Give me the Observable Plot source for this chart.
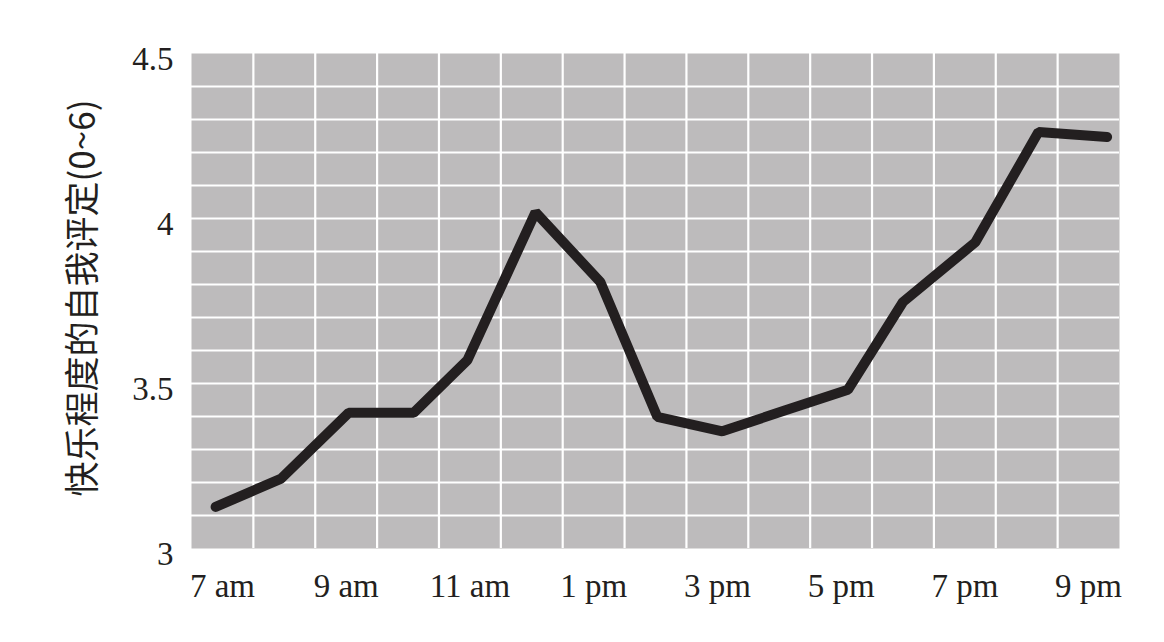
<!DOCTYPE html>
<html>
<head>
<meta charset="utf-8">
<script src="https://cdn.jsdelivr.net/npm/d3@7"></script>
<script src="https://cdn.jsdelivr.net/npm/@observablehq/plot@0.6"></script>
<style>
  html, body { margin: 0; padding: 0; background: #fff; }
  #chart svg { display: block; }
</style>
</head>
<body>
<div id="chart"></div>
<script>
// Hour of day (24h clock)
const hours = [6.89, 7.95, 9.04, 10.09, 10.96, 12.06, 13.11, 14.03, 15.08, 16.1, 17.11, 18.0, 19.17, 20.19, 21.3];
// Self-rated happiness (0~6)
const happiness = [3.126, 3.212, 3.411, 3.411, 3.571, 4.019, 3.807, 3.399, 3.355, 3.419, 3.481, 3.747, 3.928, 4.262, 4.247];

const xTickValues = [7, 9, 11, 13, 15, 17, 19, 21];
const xTickLabels = ["7 am", "9 am", "11 am", "1 pm", "3 pm", "5 pm", "7 pm", "9 pm"];
const yTickValues = [3, 3.5, 4, 4.5];
const yTickLabels = ["3", "3.5", "4", "4.5"];
const yTitle = "快乐程度的自我评定(0~6)";

const xGrid = d3.range(7.5, 21, 1);
const yGrid = d3.range(31, 45).map(d => d / 10);

const data = hours.map((h, i) => ({hour: h, value: happiness[i]}));

const chart = Plot.plot({
  width: 1164,
  height: 642,
  marginLeft: 191,
  marginRight: 45,
  marginTop: 53,
  marginBottom: 94,
  style: {fontFamily: "'Liberation Serif', 'Times New Roman', serif", background: "#fff", color: "#231f20", fontSize: "33px"},
  x: {domain: [6.5, 21.5]},
  y: {domain: [3, 4.5]},
  marks: [
    Plot.frame({fill: "#bdbbbc", stroke: null}),
    Plot.gridX(xGrid, {stroke: "#fff", strokeOpacity: 1, strokeWidth: 2.2}),
    Plot.gridY(yGrid, {stroke: "#fff", strokeOpacity: 1, strokeWidth: 2.2}),
    Plot.axisX(xTickValues, {
      tickSize: 0, tickPadding: 25, fontSize: 33,
      tickFormat: (d) => xTickLabels[xTickValues.indexOf(d)],
      label: null, fill: "#231f20"
    }),
    Plot.axisY(yTickValues, {
      tickSize: 0, tickPadding: 18, fontSize: 33, dy: 6,
      tickFormat: (d) => yTickLabels[yTickValues.indexOf(d)],
      label: null, fill: "#231f20"
    }),
    Plot.text([yTitle], {
      frameAnchor: "left", textAnchor: "middle", dx: -108, dy: -3, rotate: -90,
      fontSize: 35, fill: "#231f20",
      fontFamily: "'Noto Sans CJK SC', sans-serif"
    }),
    Plot.line(data, {
      x: "hour", y: "value",
      stroke: "#231f20", strokeWidth: 10,
      strokeLinecap: "round", strokeLinejoin: "miter"
    })
  ]
});
document.getElementById("chart").append(chart);
</script>
</body>
</html>
